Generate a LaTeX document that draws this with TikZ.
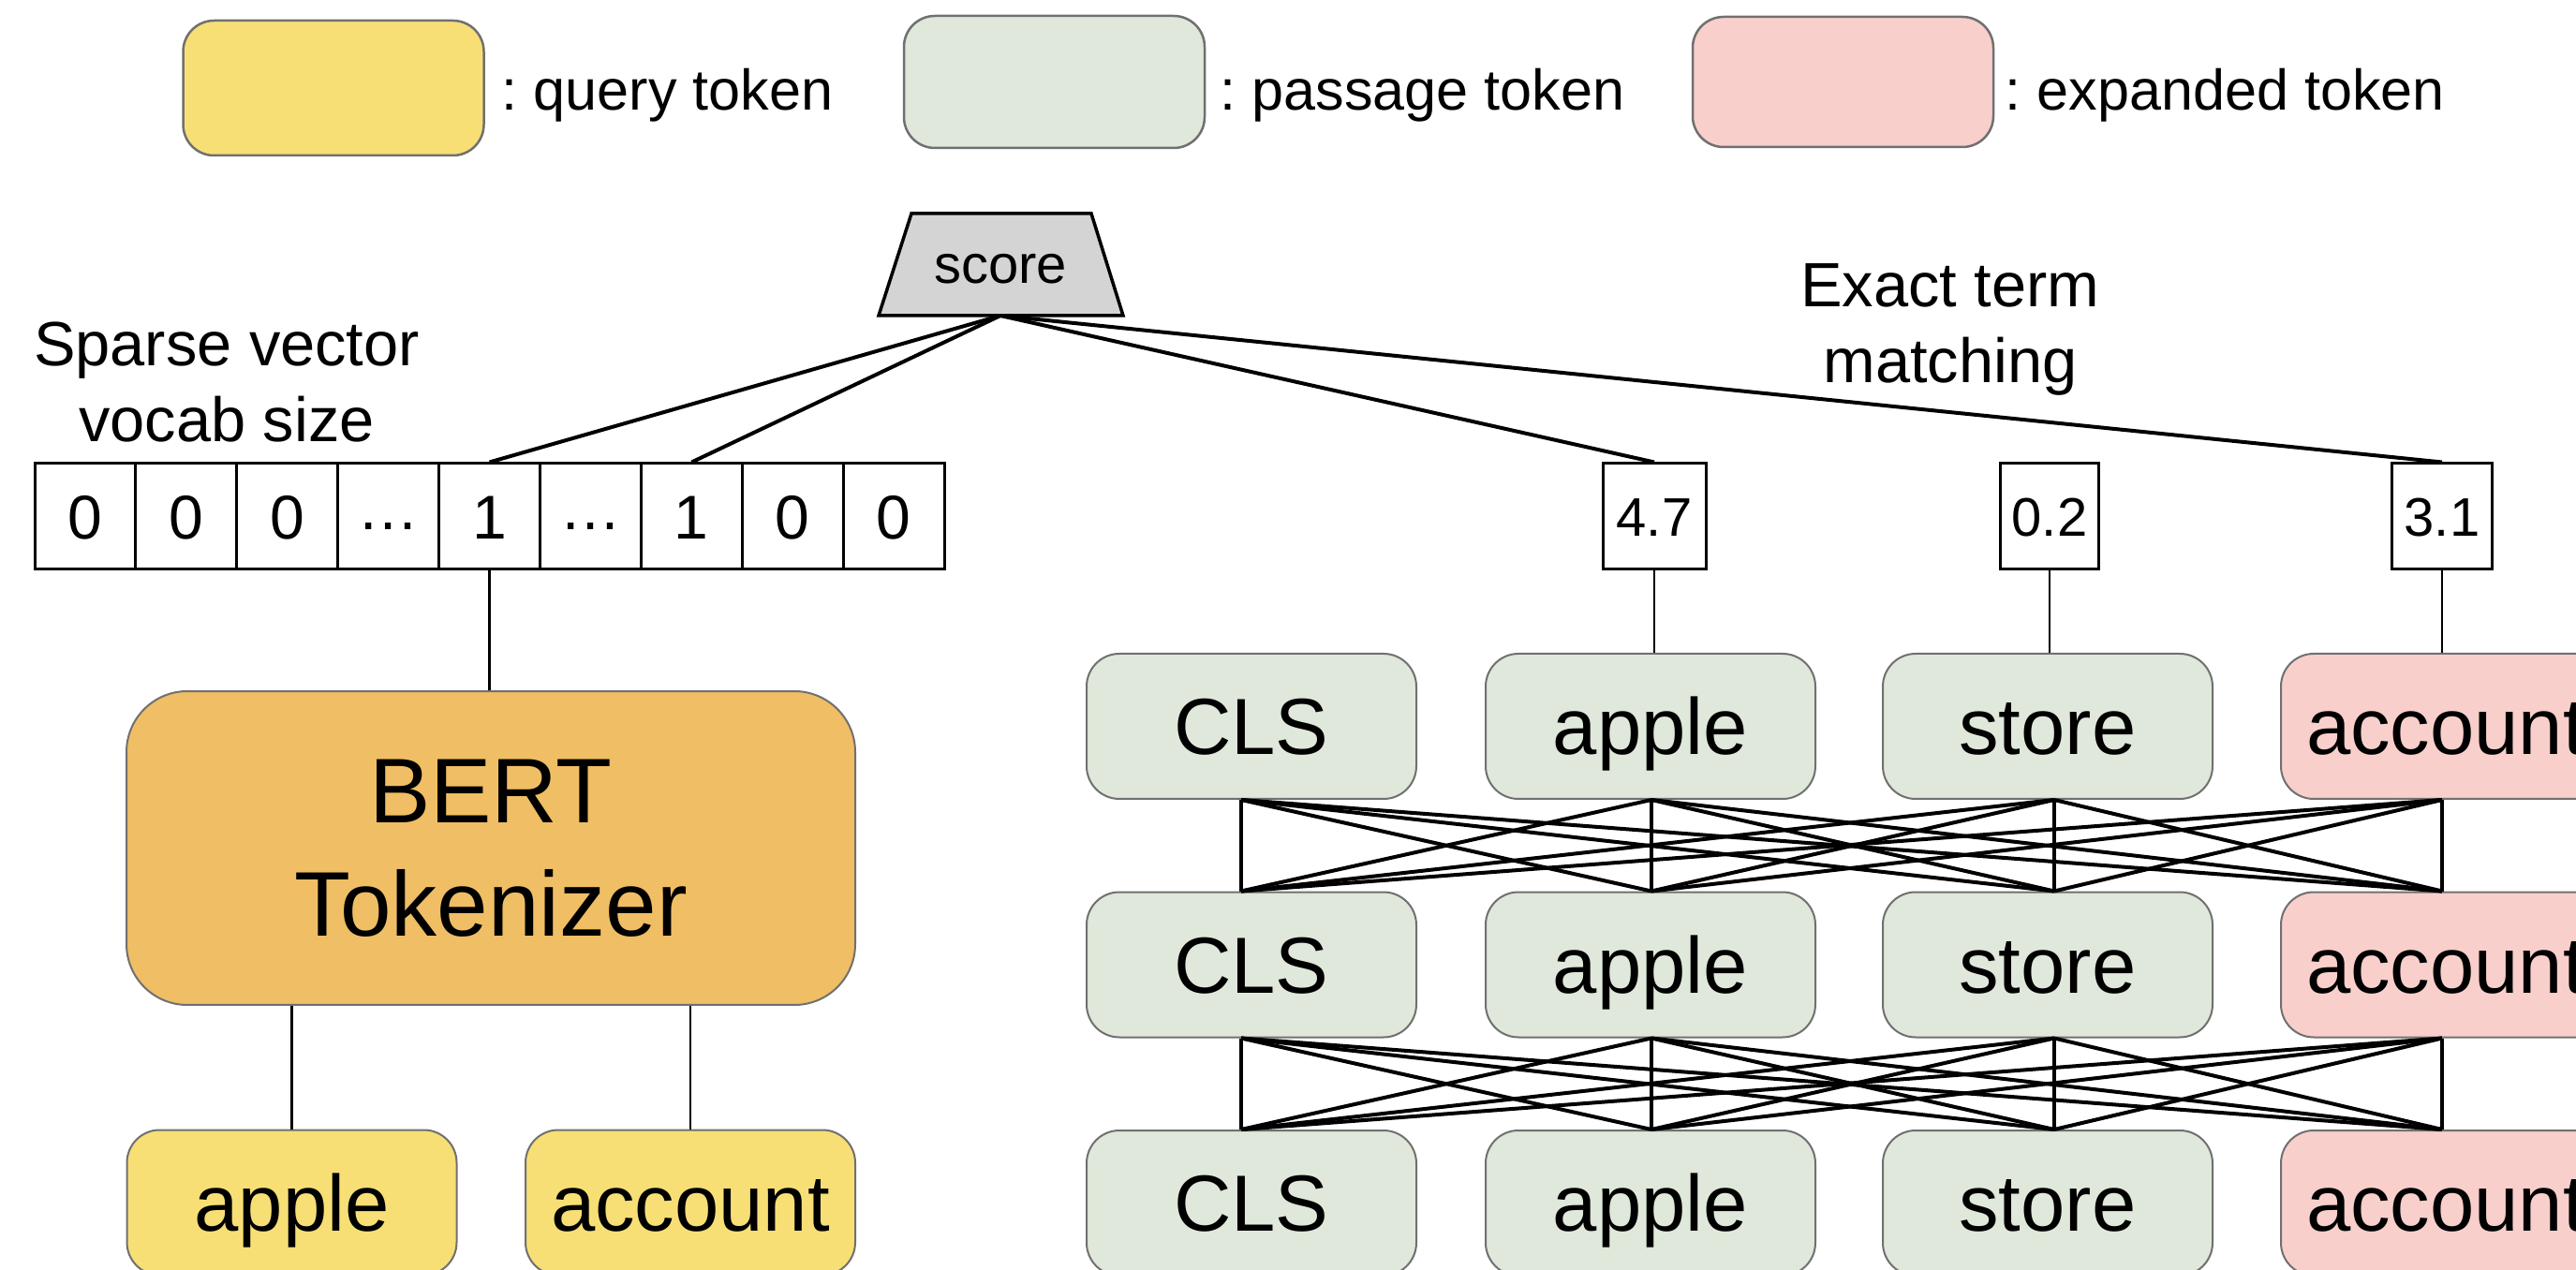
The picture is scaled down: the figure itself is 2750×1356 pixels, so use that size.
\documentclass[tikz,border=0pt]{standalone}
\usepackage{fontspec}
\setmainfont{Liberation Sans}
\usetikzlibrary{calc}
\definecolor{qyellow}{HTML}{F7DF76}
\definecolor{bertorange}{HTML}{F0BE64}
\definecolor{pgreen}{HTML}{DFE8DA}
\definecolor{epink}{HTML}{F8CFCB}
\definecolor{scoregray}{HTML}{D4D4D4}
\definecolor{boxborder}{HTML}{707070}
\begin{document}
\frenchspacing
\begin{tikzpicture}[x=0.1mm, y=-0.1mm,
  tok/.style={draw=boxborder, line width=0.2mm, rounded corners=3.5mm,
    minimum width=35.2mm, minimum height=15.5mm, inner sep=0pt,
    text height=17.3pt, text depth=0pt,
    font=\fontsize{24.2}{29}\selectfont},
  passage/.style={tok, fill=pgreen},
  expanded/.style={tok, fill=epink},
  query/.style={tok, fill=qyellow},
  legendbox/.style={draw=boxborder, line width=0.25mm, rounded corners=3.3mm,
    minimum width=32.1mm, inner sep=0pt},
  legendtext/.style={anchor=west, inner sep=0pt, text height=12.5pt, text depth=0pt,
    font=\fontsize{17.4}{21}\selectfont},
  cell/.style={draw, line width=0.3mm, minimum width=10.79mm, minimum height=11.3mm,
    inner sep=0pt, text height=13.4pt, text depth=0pt,
    font=\fontsize{18.8}{22}\selectfont},
  valbox/.style={draw, line width=0.3mm, minimum height=11.3mm, inner sep=0pt,
    text height=11.8pt, text depth=0pt, font=\fontsize{16.5}{20}\selectfont},
  conn/.style={line width=0.4mm},
  thinconn/.style={line width=0.25mm},
  label/.style={align=center, inner sep=0pt, font=\fontsize{19}{23}\selectfont}
]
\useasboundingbox (0,0) rectangle (2750,1356);
\clip (0,0) rectangle (2750,1356);

% legend
\node[legendbox, fill=qyellow, minimum height=14.4mm] (lq) at (356,94) {};
\node[legendtext] (lqt) at (535,96) {: query token};
\node[legendbox, fill=pgreen, minimum height=14.1mm] (lp) at (1125.5,87.5) {};
\node[legendtext] (lpt) at (1302,96) {: passage token};
\node[legendbox, fill=epink, minimum height=13.9mm] (le) at (1967.5,87.5) {};
\node[legendtext] (let) at (2140,96) {: expanded token};

% score
\draw[fill=scoregray, line width=0.35mm, line join=miter] (973,228) -- (1165,228) -- (1199,337) -- (938,337) -- cycle;
\node[inner sep=0pt, font=\fontsize{16.5}{20}\selectfont] (score) at (1068,287) {score};
\coordinate (scorebot) at (1068,337);

% labels
\node[label] (sparse) at (242,408) {Sparse vector\\vocab size};
\node[label] (exact) at (2082,352) {Exact term\\matching};

% sparse vector
\foreach \t [count=\i from 0] in {0,0,0,\raisebox{0.15em}{…},1,\raisebox{0.15em}{…},1,0,0}{
  \node[cell] (v\i) at ({37+107.9*(\i+0.5)},551.5) {\t};
}

% value boxes
\node[valbox, minimum width=11mm] (s47) at (1766,551.5) {4.7};
\node[valbox, minimum width=10.5mm] (s02) at (2188,551.5) {0.2};
\node[valbox, minimum width=10.7mm] (s31) at (2607,551.5) {3.1};

% BERT
\node[draw=boxborder, line width=0.2mm, fill=bertorange, rounded corners=6.5mm,
  minimum width=77.8mm, minimum height=33.5mm, align=center,
  font=\fontsize{27.9}{34.5}\selectfont] (bert) at (524,905.5) {BERT\\Tokenizer};

% query tokens
\node[query] (qapple) at (311.5,1284) {apple};
\node[query] (qaccount) at (737,1284) {account};

% passage token grid
\foreach \r/\y in {1/775.5, 2/1030, 3/1284.5}{
  \node[passage] (r\r c1) at (1336,\y) {CLS};
  \node[passage] (r\r c2) at (1762,\y) {apple};
  \node[passage] (r\r c3) at (2186,\y) {store};
  \node[expanded] (r\r c4) at (2611,\y) {account};
}

% connectors from score
\draw[conn] (scorebot) -- (v4.north);
\draw[conn] (scorebot) -- (v6.north);
\draw[conn] (scorebot) -- (s47.north);
\draw[conn] (scorebot) -- (s31.north);

% vector to BERT, BERT to query tokens
\draw[thinconn] (v4.south) -- (v4.south |- bert.north);
\draw[thinconn] (qapple.north |- bert.south) -- (qapple.north);
\draw[thinconn] (qaccount.north |- bert.south) -- (qaccount.north);

% value boxes to tokens
\draw[thinconn] (s47.south) -- (s47.south |- r1c2.north);
\draw[thinconn] (s02.south) -- (s02.south |- r1c3.north);
\draw[thinconn] (s31.south) -- (s31.south |- r1c4.north);

% full connections between layers
\foreach \u/\l in {1/2, 2/3}{
  \foreach \a/\ax in {1/-1.1, 2/0.1, 3/0.7, 4/-0.4}{
    \foreach \b/\bx in {1/-1.1, 2/0.1, 3/0.7, 4/-0.4}{
      \draw[conn] ([xshift=\ax mm]r\u c\a.south) -- ([xshift=\bx mm]r\l c\b.north);
    }
  }
}
\end{tikzpicture}
\end{document}
